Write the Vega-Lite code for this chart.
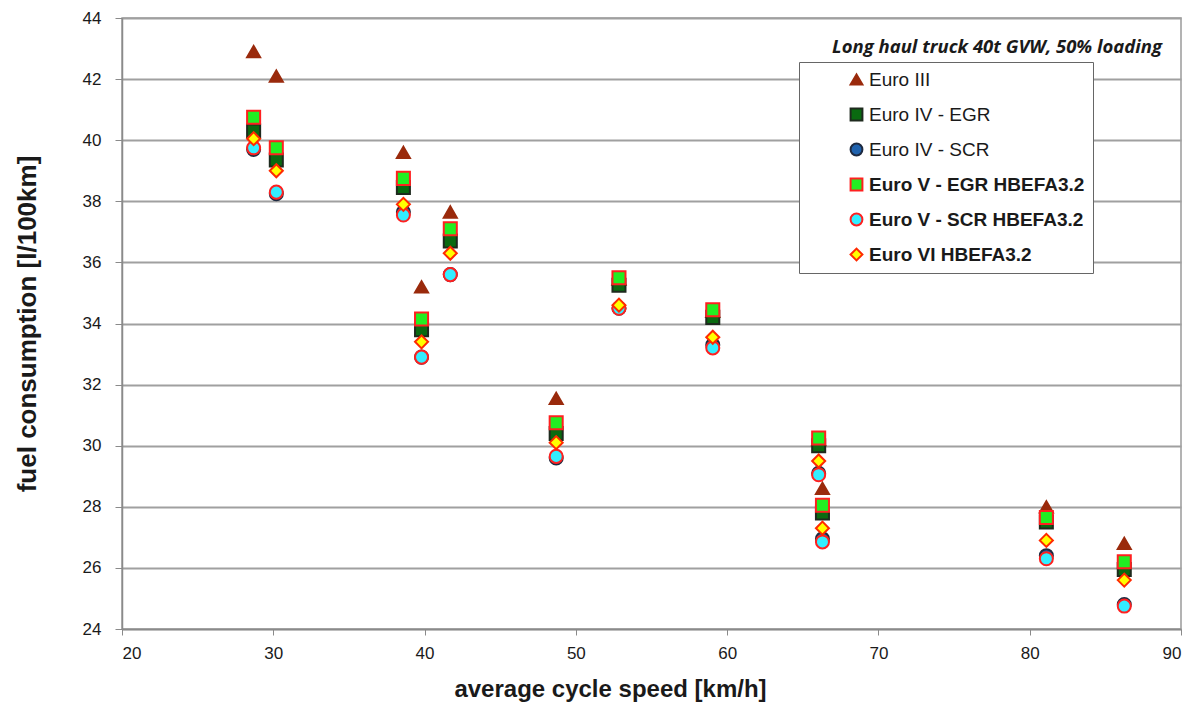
{
  "$schema": "https://vega.github.io/schema/vega-lite/v6.json",
  "width": 1059,
  "height": 611,
  "autosize": "none",
  "padding": {"left": 122, "top": 18, "right": 20, "bottom": 86},
  "background": "white",
  "title": {
    "text": "Long haul truck 40t GVW, 50% loading",
    "anchor": "end",
    "frame": "group",
    "offset": -47,
    "dx": -19,
    "font": "Open Sans",
    "fontStyle": "italic",
    "fontWeight": "bold",
    "fontSize": 18.5,
    "color": "#1a1a1a"
  },
  "config": {
    "view": {"stroke": "#9a9a9a", "strokeWidth": 1.5},
    "font": "Liberation Sans"
  },
  "data": {
    "values": [
      {"series": "Euro III", "speed": 28.7, "fc": 42.9},
      {"series": "Euro III", "speed": 30.2, "fc": 42.1},
      {"series": "Euro III", "speed": 38.6, "fc": 39.6},
      {"series": "Euro III", "speed": 39.8, "fc": 35.2},
      {"series": "Euro III", "speed": 41.7, "fc": 37.65},
      {"series": "Euro III", "speed": 48.7, "fc": 31.55},
      {"series": "Euro III", "speed": 52.85, "fc": 35.45},
      {"series": "Euro III", "speed": 59.05, "fc": 34.4},
      {"series": "Euro III", "speed": 66.05, "fc": 30.2},
      {"series": "Euro III", "speed": 66.3, "fc": 28.6},
      {"series": "Euro III", "speed": 81.1, "fc": 28.0},
      {"series": "Euro III", "speed": 86.25, "fc": 26.8},

      {"series": "Euro IV - EGR", "speed": 28.7, "fc": 40.3},
      {"series": "Euro IV - EGR", "speed": 30.2, "fc": 39.35},
      {"series": "Euro IV - EGR", "speed": 38.6, "fc": 38.45},
      {"series": "Euro IV - EGR", "speed": 39.8, "fc": 33.8},
      {"series": "Euro IV - EGR", "speed": 41.7, "fc": 36.7},
      {"series": "Euro IV - EGR", "speed": 48.7, "fc": 30.4},
      {"series": "Euro IV - EGR", "speed": 52.85, "fc": 35.25},
      {"series": "Euro IV - EGR", "speed": 59.05, "fc": 34.2},
      {"series": "Euro IV - EGR", "speed": 66.05, "fc": 30.0},
      {"series": "Euro IV - EGR", "speed": 66.3, "fc": 27.8},
      {"series": "Euro IV - EGR", "speed": 81.1, "fc": 27.5},
      {"series": "Euro IV - EGR", "speed": 86.25, "fc": 25.95},

      {"series": "Euro IV - SCR", "speed": 28.7, "fc": 39.7},
      {"series": "Euro IV - SCR", "speed": 30.2, "fc": 38.25},
      {"series": "Euro IV - SCR", "speed": 38.6, "fc": 37.65},
      {"series": "Euro IV - SCR", "speed": 39.8, "fc": 32.9},
      {"series": "Euro IV - SCR", "speed": 41.7, "fc": 35.6},
      {"series": "Euro IV - SCR", "speed": 48.7, "fc": 29.6},
      {"series": "Euro IV - SCR", "speed": 52.85, "fc": 34.5},
      {"series": "Euro IV - SCR", "speed": 59.05, "fc": 33.3},
      {"series": "Euro IV - SCR", "speed": 66.05, "fc": 29.1},
      {"series": "Euro IV - SCR", "speed": 66.3, "fc": 26.95},
      {"series": "Euro IV - SCR", "speed": 81.1, "fc": 26.4},
      {"series": "Euro IV - SCR", "speed": 86.25, "fc": 24.8},

      {"series": "Euro V - EGR HBEFA3.2", "speed": 28.7, "fc": 40.75},
      {"series": "Euro V - EGR HBEFA3.2", "speed": 30.2, "fc": 39.75},
      {"series": "Euro V - EGR HBEFA3.2", "speed": 38.6, "fc": 38.75},
      {"series": "Euro V - EGR HBEFA3.2", "speed": 39.8, "fc": 34.15},
      {"series": "Euro V - EGR HBEFA3.2", "speed": 41.7, "fc": 37.1},
      {"series": "Euro V - EGR HBEFA3.2", "speed": 48.7, "fc": 30.75},
      {"series": "Euro V - EGR HBEFA3.2", "speed": 52.85, "fc": 35.5},
      {"series": "Euro V - EGR HBEFA3.2", "speed": 59.05, "fc": 34.45},
      {"series": "Euro V - EGR HBEFA3.2", "speed": 66.05, "fc": 30.25},
      {"series": "Euro V - EGR HBEFA3.2", "speed": 66.3, "fc": 28.05},
      {"series": "Euro V - EGR HBEFA3.2", "speed": 81.1, "fc": 27.65},
      {"series": "Euro V - EGR HBEFA3.2", "speed": 86.25, "fc": 26.2},

      {"series": "Euro V - SCR HBEFA3.2", "speed": 28.7, "fc": 39.75},
      {"series": "Euro V - SCR HBEFA3.2", "speed": 30.2, "fc": 38.3},
      {"series": "Euro V - SCR HBEFA3.2", "speed": 38.6, "fc": 37.55},
      {"series": "Euro V - SCR HBEFA3.2", "speed": 39.8, "fc": 32.9},
      {"series": "Euro V - SCR HBEFA3.2", "speed": 41.7, "fc": 35.6},
      {"series": "Euro V - SCR HBEFA3.2", "speed": 48.7, "fc": 29.65},
      {"series": "Euro V - SCR HBEFA3.2", "speed": 52.85, "fc": 34.5},
      {"series": "Euro V - SCR HBEFA3.2", "speed": 59.05, "fc": 33.2},
      {"series": "Euro V - SCR HBEFA3.2", "speed": 66.05, "fc": 29.05},
      {"series": "Euro V - SCR HBEFA3.2", "speed": 66.3, "fc": 26.85},
      {"series": "Euro V - SCR HBEFA3.2", "speed": 81.1, "fc": 26.3},
      {"series": "Euro V - SCR HBEFA3.2", "speed": 86.25, "fc": 24.75},

      {"series": "Euro VI HBEFA3.2", "speed": 28.7, "fc": 40.05},
      {"series": "Euro VI HBEFA3.2", "speed": 30.2, "fc": 39.0},
      {"series": "Euro VI HBEFA3.2", "speed": 38.6, "fc": 37.9},
      {"series": "Euro VI HBEFA3.2", "speed": 39.8, "fc": 33.4},
      {"series": "Euro VI HBEFA3.2", "speed": 41.7, "fc": 36.3},
      {"series": "Euro VI HBEFA3.2", "speed": 48.7, "fc": 30.1},
      {"series": "Euro VI HBEFA3.2", "speed": 52.85, "fc": 34.6},
      {"series": "Euro VI HBEFA3.2", "speed": 59.05, "fc": 33.55},
      {"series": "Euro VI HBEFA3.2", "speed": 66.05, "fc": 29.5},
      {"series": "Euro VI HBEFA3.2", "speed": 66.3, "fc": 27.3},
      {"series": "Euro VI HBEFA3.2", "speed": 81.1, "fc": 26.9},
      {"series": "Euro VI HBEFA3.2", "speed": 86.25, "fc": 25.6}
    ]
  },
  "mark": {"type": "point", "filled": true, "size": 170, "strokeWidth": 2, "opacity": 1},
  "encoding": {
    "x": {
      "field": "speed",
      "type": "quantitative",
      "scale": {"domain": [20, 90], "nice": false, "zero": false},
      "axis": {
        "title": "average cycle speed [km/h]",
        "values": [20, 30, 40, 50, 60, 70, 80, 90],
        "grid": false,
        "domainColor": "#8a8a8a",
        "domainWidth": 1.5,
        "tickColor": "#8a8a8a",
        "tickSize": 6,
        "labelFontSize": 17,
        "labelColor": "#1a1a1a",
        "labelPadding": 10,
        "labelFont": "Liberation Sans",
        "titleFont": "Liberation Sans",
        "titleFontSize": 24,
        "titleFontWeight": "bold",
        "titleColor": "#1a1a1a",
        "titlePadding": 16,
        "titleX": 488
      }
    },
    "y": {
      "field": "fc",
      "type": "quantitative",
      "scale": {"domain": [24, 44], "nice": false, "zero": false},
      "axis": {
        "title": "fuel consumption [l/100km]",
        "values": [24, 26, 28, 30, 32, 34, 36, 38, 40, 42, 44],
        "grid": true,
        "gridColor": "#a0a0a0",
        "gridWidth": 2,
        "domainColor": "#8a8a8a",
        "domainWidth": 1.5,
        "tickColor": "#8a8a8a",
        "tickSize": 7,
        "labelFontSize": 17,
        "labelColor": "#1a1a1a",
        "labelPadding": 14,
        "labelFont": "Liberation Sans",
        "titleFont": "Liberation Sans",
        "titleFontSize": 26,
        "titleFontWeight": "bold",
        "titleColor": "#1a1a1a",
        "titlePadding": 42
      }
    },
    "shape": {
      "field": "series",
      "type": "nominal",
      "scale": {
        "domain": ["Euro III", "Euro IV - EGR", "Euro IV - SCR", "Euro V - EGR HBEFA3.2", "Euro V - SCR HBEFA3.2", "Euro VI HBEFA3.2"],
        "range": ["triangle-up", "square", "circle", "square", "circle", "diamond"]
      },
      "legend": {
        "title": null,
        "orient": "none",
        "legendX": 677,
        "legendY": 44,
        "padding": 8,
        "symbolOffset": 40,
        "labelOffset": 3,
        "strokeColor": "#666666",
        "fillColor": "white",
        "symbolSize": 140,
        "symbolStrokeWidth": 2,
        "labelFontSize": 19,
        "labelFont": "Liberation Sans",
        "labelColor": "#1a1a1a",
        "labelFontWeight": {"expr": "indexof(datum.value, 'HBEFA') >= 0 ? 'bold' : 'normal'"},
        "rowPadding": 14,
        "labelLimit": 400
      }
    },
    "fill": {
      "field": "series",
      "type": "nominal",
      "scale": {
        "domain": ["Euro III", "Euro IV - EGR", "Euro IV - SCR", "Euro V - EGR HBEFA3.2", "Euro V - SCR HBEFA3.2", "Euro VI HBEFA3.2"],
        "range": ["#9a2a0c", "#0a6a10", "#1f62ae", "#22ee22", "#33eeff", "#ffff00"]
      },
      "legend": null
    },
    "stroke": {
      "field": "series",
      "type": "nominal",
      "scale": {
        "domain": ["Euro III", "Euro IV - EGR", "Euro IV - SCR", "Euro V - EGR HBEFA3.2", "Euro V - SCR HBEFA3.2", "Euro VI HBEFA3.2"],
        "range": ["#9a2a0c", "#1e2a1e", "#1e2a40", "#ff2020", "#ff2020", "#ff2a00"]
      },
      "legend": null
    }
  }
}
